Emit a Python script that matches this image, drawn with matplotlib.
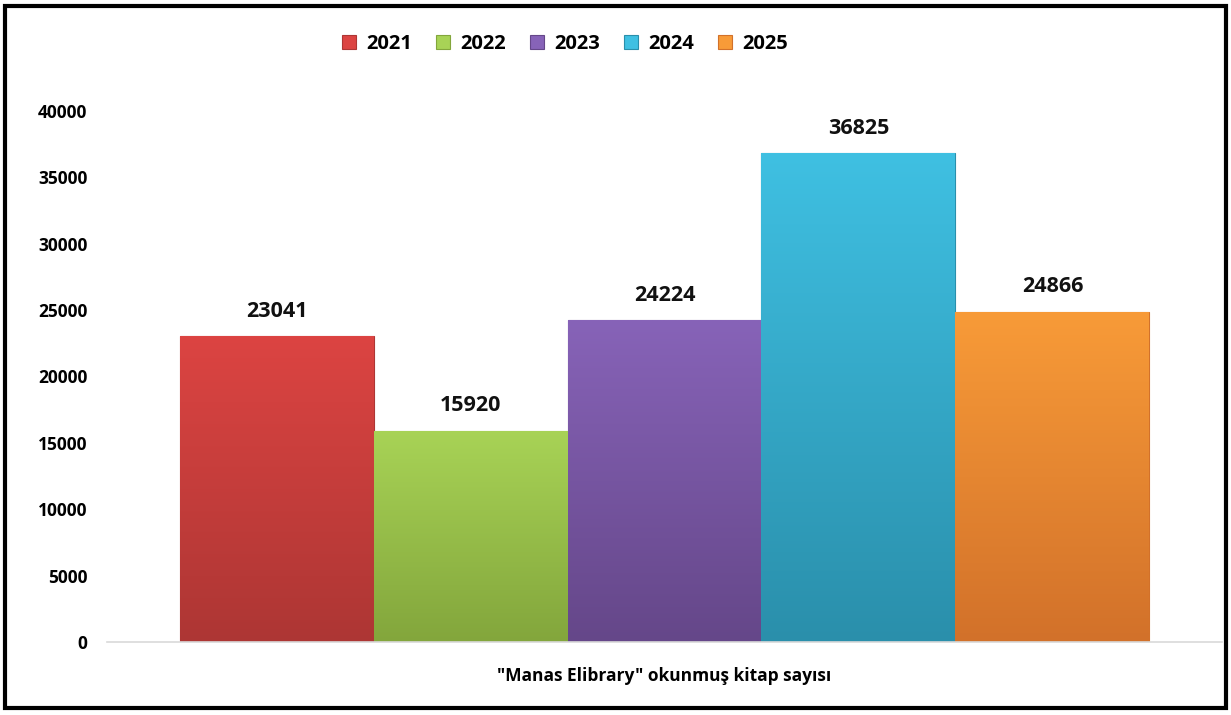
import numpy as np
import matplotlib.pyplot as plt
from matplotlib.colors import LinearSegmentedColormap
from matplotlib.patches import Rectangle

plt.rcParams['font.family'] = ['Open Sans', 'DejaVu Sans']

# Data
years = ['2021', '2022', '2023', '2024', '2025']
values = [23041, 15920, 24224, 36825, 24866]
category = '"Manas Elibrary" okunmuş kitap sayısı'
top_colors = ['#dc4442', '#a8d356', '#8763b8', '#3fc0e2', '#f89b38']
bottom_colors = ['#ad3634', '#83a63c', '#654789', '#2a8fab', '#d2712a']

fig = plt.figure(figsize=(12.31, 7.15), dpi=100)
ax = fig.add_axes([107 / 1231, 1 - 642 / 715, (1222 - 107) / 1231, (642 - 111) / 715])

width = 1.0
offsets = np.arange(len(years)) - (len(years) - 1) / 2
for i, (yr, v) in enumerate(zip(years, values)):
    bars = ax.bar(offsets[i], v, width=width, color=top_colors[i], label=yr,
                  edgecolor=bottom_colors[i], linewidth=0.8, zorder=2)
    # vertical gradient, lighter at top
    p = bars.patches[0]
    cmap = LinearSegmentedColormap.from_list('g', [bottom_colors[i], top_colors[i]])
    grad = np.linspace(0, 1, 256).reshape(-1, 1)
    im = ax.imshow(grad, extent=[p.get_x(), p.get_x() + p.get_width(), 0, p.get_height()],
                   origin='lower', aspect='auto', cmap=cmap, zorder=2.5)
    im.set_clip_path(p)
    ax.annotate(f'{v}', (offsets[i], v), xytext=(0, 18), textcoords='offset points',
                ha='center', va='center', fontsize=15.5, fontweight='bold', color='#111111')

ax.set_xlim(-2.874, 2.874)
ax.set_ylim(0, 40000)
ax.set_yticks(range(0, 40001, 5000))
ax.tick_params(axis='y', length=0, pad=14, labelsize=12.5)
for lbl in ax.get_yticklabels():
    lbl.set_fontweight('bold')
ax.set_xticks([])
for s in ['top', 'right', 'left']:
    ax.spines[s].set_visible(False)
ax.spines['bottom'].set_color('#d9d9d9')
ax.spines['bottom'].set_linewidth(1.2)
ax.set_xlabel(category, fontsize=12.5, fontweight='bold', labelpad=18)

leg = fig.legend(loc='center', bbox_to_anchor=(565 / 1231, 1 - 44 / 715), ncol=5,
                 frameon=False, handlelength=0.7, handleheight=0.7,
                 handletextpad=0.5, columnspacing=1.2,
                 prop={'size': 14.5, 'weight': 'bold'})

# outer border
fig.add_artist(Rectangle((5 / 1231, 7 / 715), 1221 / 1231, 702 / 715, fill=False,
                         edgecolor='black', linewidth=3, transform=fig.transFigure))

plt.savefig('out.png', dpi=100)
